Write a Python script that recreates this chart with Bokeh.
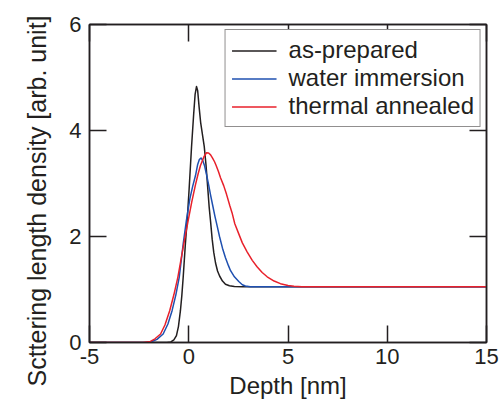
from bokeh.plotting import figure
from bokeh.models import FixedTicker, LinearAxis, Range1d, Legend, LegendItem, Title
from bokeh.embed import file_html
from bokeh.resources import INLINE

# as-prepared (black)
x_as = [-5, -1.1, -0.9, -0.75, -0.62, -0.52, -0.42, -0.35, -0.28, -0.17, -0.08, 0.02,
        0.14, 0.25, 0.32, 0.39, 0.45, 0.52, 0.6, 0.7, 0.78, 0.87, 0.95, 1.03, 1.1,
        1.18, 1.26, 1.35, 1.45, 1.56, 1.7, 1.85, 2.05, 2.3, 2.7, 15]
y_as = [0, 0, 0.01, 0.05, 0.13, 0.3, 0.6, 0.88, 1.23, 1.86, 2.3, 2.9,
        3.69, 4.32, 4.68, 4.83, 4.75, 4.45, 4.15, 3.9, 3.7, 3.35, 2.95, 2.55, 2.28,
        1.95, 1.7, 1.5, 1.35, 1.25, 1.16, 1.1, 1.07, 1.055, 1.05, 1.05]

# water immersion (blue)
x_wi = [-5, -2.2, -1.85, -1.6, -1.29, -1.05, -0.84, -0.65, -0.48, -0.28, -0.12, 0.06,
        0.2, 0.34, 0.45, 0.53, 0.62, 0.7, 0.8, 0.9, 1.01, 1.1, 1.21, 1.32, 1.43, 1.55,
        1.7, 1.85, 2.0, 2.1, 2.3, 2.52, 2.7, 2.85, 3.1, 3.5, 15]
y_wi = [0, 0, 0.02, 0.06, 0.16, 0.35, 0.6, 0.9, 1.23, 1.86, 2.3, 2.72,
        2.95, 3.15, 3.36, 3.45, 3.48, 3.44, 3.33, 3.16, 2.96, 2.78, 2.58, 2.38, 2.2, 2.0,
        1.78, 1.6, 1.45, 1.36, 1.24, 1.15, 1.09, 1.065, 1.052, 1.05, 1.05]

# thermal annealed (red)
x_ta = [-5, -2.3, -1.93, -1.7, -1.42, -1.2, -0.96, -0.75, -0.55, -0.25, -0.03, 0.15,
        0.34, 0.47, 0.59, 0.76, 0.89, 1.0, 1.1, 1.2, 1.3, 1.38, 1.5, 1.6, 1.76, 1.9,
        2.07, 2.18, 2.32, 2.52, 2.7, 2.94, 3.2, 3.44, 3.7, 3.95, 4.3, 4.62, 5.0, 5.3,
        5.7, 15]
y_ta = [0, 0, 0.02, 0.07, 0.16, 0.33, 0.6, 0.9, 1.23, 1.86, 2.3, 2.65,
        2.98, 3.18, 3.34, 3.5, 3.58, 3.575, 3.54, 3.48, 3.41, 3.34, 3.22, 3.11, 2.96, 2.8,
        2.58, 2.45, 2.24, 2.05, 1.88, 1.71, 1.55, 1.43, 1.32, 1.24, 1.16, 1.11, 1.075, 1.06,
        1.05, 1.05]

x_ticks = [-5, 0, 5, 10, 15]
y_ticks = [0, 2, 4, 6]
labels = ["as-prepared", "water immersion", "thermal annealed"]
colors = ["#231f20", "#1f50b0", "#e8212b"]
x_title = "Depth [nm]"
y_title = "Scttering length density [arb. unit]"

FONT = "Liberation Sans"
TXT = "#231f20"

p = figure(width=503, height=406, output_backend="svg", toolbar_location=None,
           x_range=Range1d(-5, 15), y_range=Range1d(0, 6),
           min_border_left=89, min_border_right=17, min_border_top=24, min_border_bottom=64)
p.background_fill_color = "white"
p.border_fill_color = "white"
p.grid.visible = False
p.outline_line_color = TXT
p.outline_line_width = 1.5

r1 = p.line(x_as, y_as, line_color=colors[0], line_width=1.5, line_join="round")
r2 = p.line(x_wi, y_wi, line_color=colors[1], line_width=1.5, line_join="round")
r3 = p.line(x_ta, y_ta, line_color=colors[2], line_width=1.5, line_join="round")

def style_axis(ax, ticks, show_labels=True):
    ax.ticker = FixedTicker(ticks=ticks)
    ax.axis_line_color = TXT
    ax.axis_line_width = 1.5
    ax.major_tick_line_color = TXT
    ax.major_tick_line_width = 1.5
    ax.major_tick_in = 17
    ax.major_tick_out = 0
    ax.minor_tick_line_color = None
    ax.major_label_text_font = FONT
    ax.major_label_text_font_size = "22px"
    ax.major_label_text_color = TXT
    ax.axis_label_text_font = FONT
    ax.axis_label_text_font_size = "24px"
    ax.axis_label_text_font_style = "normal"
    ax.axis_label_text_color = TXT
    if not show_labels:
        ax.major_label_text_font_size = "0px"
        ax.major_label_text_alpha = 0

style_axis(p.xaxis[0], x_ticks)
style_axis(p.yaxis[0], y_ticks)
p.xaxis[0].major_label_overrides = {-5: "-5"}
p.xaxis[0].axis_label = x_title
p.xaxis[0].major_label_standoff = 6
p.yaxis[0].major_label_standoff = 8
p.xaxis[0].axis_label_standoff = 5

top = LinearAxis()
right = LinearAxis()
style_axis(top, x_ticks, False)
style_axis(right, y_ticks, False)
top.major_label_standoff = 0
right.major_label_standoff = 0
p.add_layout(top, "above")
p.add_layout(right, "right")

# y-axis title as a side title, starting a little below the frame bottom
ytitle = Title(text=y_title, align="left", offset=-44, standoff=28,
               vertical_align="top",
               text_font=FONT, text_font_size="25px", text_font_style="normal",
               text_color=TXT)
p.add_layout(ytitle, "left")

legend = Legend(items=[LegendItem(label=labels[0], renderers=[r1]),
                       LegendItem(label=labels[1], renderers=[r2]),
                       LegendItem(label=labels[2], renderers=[r3])],
                location="top_right")
legend.margin = 5
legend.padding = 6
legend.spacing = 0
legend.glyph_width = 45
legend.glyph_height = 27
legend.label_height = 27
legend.label_standoff = 12
legend.label_text_font = FONT
legend.label_text_font_size = "24px"
legend.label_text_color = TXT
legend.border_line_color = TXT
legend.border_line_width = 1.5
legend.background_fill_alpha = 1
p.add_layout(legend, "center")

open("out.html", "w").write(file_html(p, INLINE))
